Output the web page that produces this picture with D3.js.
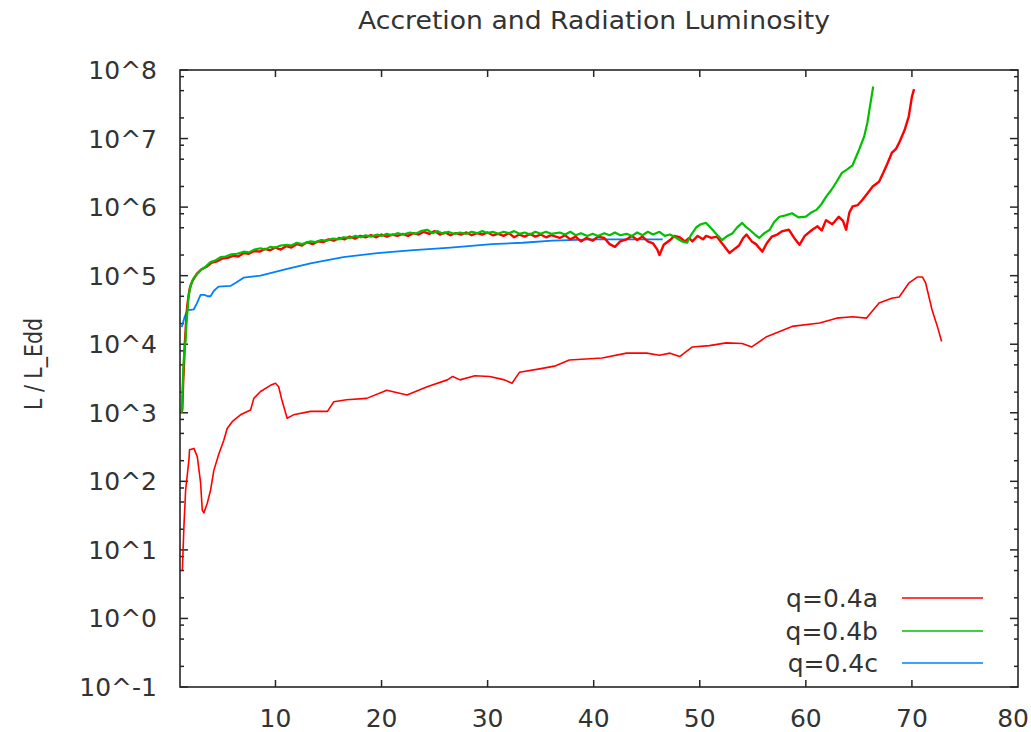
<!DOCTYPE html>
<html>
<head>
<meta charset="utf-8">
<script src="https://cdn.jsdelivr.net/npm/d3@7"></script>
<style>
  html, body { margin: 0; padding: 0; background: #fff; }
  svg { display: block; }
  text { font-family: "DejaVu Sans", sans-serif; fill: #333; }
</style>
</head>
<body>
<div id="chart"></div>
<script>
// ---------------- data (L / L_Edd stored as log10 exponents) ----------------
const chartTitle = "Accretion and Radiation Luminosity";
const yLabel = "L / L_Edd";
const seriesNames = ["q=0.4a", "q=0.4b", "q=0.4c"];
const seriesColors = ["#ff0000", "#00c000", "#0080ff"];

const xTicks = [10, 20, 30, 40, 50, 60, 70, 80];
const yTickExps = [-1, 0, 1, 2, 3, 4, 5, 6, 7, 8];
const yMinorFactors = [2, 5, 8];

// q=0.4a upper (noisy) curve
const aUpperX = [1.15,1.22,1.30,1.37,1.45,1.53,1.60,1.70,1.80,1.90,2.00,2.2,2.4,2.6,2.8,3.0,3.5,4.0,4.5,5.0,5.5,6.0,6.5,7.0,7.5,8.0,8.5,9.0,9.5,10.0,10.5,11.0,11.5,12.0,12.5,13.0,13.5,14.0,14.5,15.0,15.5,16.0,16.5,17.0,17.5,18.0,18.5,19.0,19.5,20.0,20.5,21.0,21.5,22.0,22.5,23.0,23.5,24.0,24.5,25.0,25.5,26.0,26.5,27.0,27.5,28.0,28.5,29.0,29.5,30.0,30.5,31.0,31.5,32.0,32.5,33.0,33.5,34.0,34.5,35.0,35.5,36.0,36.8,37.3,37.8,38.3,38.8,39.3,39.9,40.4,41.0,41.5,42.0,42.5,43.1,43.6,44.1,44.6,45.1,45.6,46.0,46.2,46.6,47.2,47.6,48.1,48.6,49.0,49.3,49.8,50.3,50.6,51.1,51.6,52.2,52.8,53.2,53.7,54.1,54.4,54.9,55.3,55.9,56.3,56.8,57.3,57.8,58.4,58.9,59.4,59.9,60.6,61.1,61.5,61.9,62.5,63.1,63.5,63.8,64.1,64.4,64.9,65.3,65.8,66.3,66.9,67.3,67.7,68.1,68.5,68.8,69.3,69.7,70.0,70.2];
const aUpperLog = [3.00,3.05,3.45,3.67,4.00,4.20,4.40,4.58,4.70,4.80,4.86,4.93,4.98,5.03,5.06,5.09,5.13,5.19,5.21,5.25,5.26,5.29,5.28,5.33,5.32,5.36,5.35,5.39,5.37,5.41,5.38,5.43,5.41,5.46,5.44,5.49,5.46,5.50,5.49,5.53,5.51,5.55,5.53,5.57,5.54,5.58,5.56,5.59,5.56,5.60,5.57,5.60,5.58,5.61,5.58,5.62,5.60,5.64,5.61,5.65,5.60,5.63,5.59,5.62,5.60,5.63,5.59,5.62,5.60,5.63,5.59,5.61,5.58,5.62,5.56,5.60,5.57,5.61,5.57,5.60,5.56,5.59,5.55,5.59,5.53,5.57,5.50,5.55,5.51,5.57,5.55,5.46,5.42,5.50,5.53,5.58,5.52,5.57,5.50,5.47,5.38,5.30,5.45,5.52,5.58,5.56,5.50,5.55,5.50,5.58,5.53,5.58,5.55,5.57,5.45,5.33,5.38,5.44,5.55,5.60,5.50,5.46,5.35,5.47,5.57,5.60,5.65,5.67,5.55,5.45,5.58,5.67,5.72,5.66,5.81,5.75,5.86,5.80,5.67,5.92,6.01,6.03,6.10,6.20,6.30,6.37,6.50,6.64,6.79,6.85,6.94,7.12,7.32,7.61,7.72];

// q=0.4a lower curve
const aLowerX = [1.22,1.37,1.53,1.84,1.90,2.31,2.63,2.94,3.10,3.25,3.57,3.88,4.19,4.66,5.13,5.45,5.92,6.70,7.65,7.96,8.59,9.53,10.0,10.3,10.6,11.1,11.7,13.3,14.9,15.5,16.7,18.6,20.5,22.4,24.3,26.2,26.7,27.4,28.8,30.2,31.6,32.3,33.0,34.9,36.3,37.7,40.8,43.1,45.0,46.2,47.2,48.1,49.3,50.9,52.5,54.0,54.9,56.3,58.7,61.3,62.9,64.4,65.7,66.9,68.1,68.8,69.7,70.5,71.0,71.3,71.9,72.4,72.8];
const aLowerLog = [0.70,1.34,1.87,2.31,2.46,2.48,2.36,1.98,1.58,1.54,1.68,1.87,2.16,2.40,2.60,2.77,2.87,2.97,3.04,3.21,3.31,3.40,3.43,3.38,3.19,2.92,2.97,3.02,3.02,3.16,3.19,3.21,3.33,3.26,3.38,3.48,3.53,3.48,3.54,3.53,3.48,3.43,3.59,3.64,3.68,3.77,3.80,3.87,3.87,3.84,3.87,3.82,3.96,3.98,4.02,4.01,3.96,4.11,4.26,4.31,4.38,4.40,4.38,4.60,4.67,4.69,4.89,4.98,4.98,4.89,4.50,4.26,4.04];

// q=0.4b
const bX = [1.15,1.22,1.30,1.37,1.45,1.53,1.60,1.69,1.80,1.90,2.00,2.15,2.31,2.6,2.94,3.4,3.88,4.3,4.82,5.3,5.8,6.4,7.0,7.5,8.0,8.6,9.0,9.5,10.0,10.5,11.1,11.5,12.0,12.5,13.3,13.8,14.3,14.8,15.4,16.0,16.4,17.0,17.5,18.0,18.5,19.0,19.6,20.0,20.5,21.0,21.5,22.0,22.7,23.2,23.7,24.3,24.8,25.3,25.8,26.3,26.8,27.4,28.0,28.5,29.0,29.5,30.0,30.5,31.0,31.5,32.0,32.5,33.0,33.5,34.0,34.5,35.0,35.5,36.0,36.8,37.3,37.8,38.3,38.8,39.4,39.9,40.4,41.0,41.5,42.0,42.5,43.1,43.6,44.1,44.6,45.1,45.6,46.2,46.7,47.2,47.8,48.3,48.8,49.2,49.7,50.1,50.6,51.2,51.6,52.1,52.6,53.1,53.5,54.0,54.3,54.7,55.2,55.6,56.1,56.6,57.0,57.5,58.1,58.7,59.3,60.0,60.5,61.0,61.5,61.9,62.4,62.9,63.4,63.9,64.4,65.0,65.5,65.8,66.1,66.35];
const bLog = [3.00,3.19,3.60,3.80,3.95,4.06,4.30,4.45,4.68,4.78,4.84,4.92,4.97,5.02,5.08,5.13,5.20,5.22,5.27,5.28,5.31,5.32,5.35,5.34,5.38,5.40,5.38,5.42,5.41,5.44,5.45,5.44,5.48,5.46,5.50,5.49,5.52,5.51,5.54,5.53,5.56,5.55,5.58,5.56,5.59,5.57,5.60,5.58,5.61,5.59,5.62,5.60,5.63,5.61,5.65,5.67,5.62,5.65,5.61,5.64,5.61,5.63,5.61,5.64,5.62,5.65,5.62,5.64,5.61,5.64,5.62,5.65,5.61,5.63,5.60,5.64,5.61,5.64,5.61,5.63,5.60,5.64,5.59,5.62,5.58,5.61,5.58,5.62,5.59,5.63,5.59,5.61,5.58,5.63,5.59,5.64,5.60,5.64,5.58,5.60,5.55,5.50,5.48,5.60,5.71,5.75,5.77,5.67,5.60,5.52,5.58,5.62,5.70,5.77,5.72,5.67,5.60,5.55,5.62,5.67,5.78,5.86,5.88,5.91,5.85,5.86,5.92,5.96,6.05,6.15,6.25,6.37,6.50,6.55,6.61,6.83,7.03,7.23,7.52,7.76];

// q=0.4c
const cX = [1.15,1.22,1.40,1.69,2.00,2.31,2.60,2.94,3.30,3.60,3.88,4.20,4.63,5.76,6.30,6.99,8.59,11.1,13.3,16.4,19.6,22.7,26.5,30.4,33.3,36.1,39.9,46.5];
const cLog = [4.25,4.28,4.38,4.50,4.50,4.51,4.60,4.72,4.72,4.70,4.70,4.78,4.84,4.85,4.90,4.97,5.00,5.10,5.18,5.27,5.33,5.37,5.41,5.46,5.48,5.51,5.53,5.53];

// ---------------- layout ----------------
const W = 1031, H = 732;
const plot = { left: 180, right: 1018, top: 70, bottom: 687 };

const svg = d3.select("#chart").append("svg")
  .attr("width", W).attr("height", H);

const x = d3.scaleLinear().domain([1, 80]).range([plot.left, plot.right]);
const y = d3.scaleLog().domain([1e-1, 1e8]).range([plot.bottom, plot.top]);

const frameColor = "#262626";

svg.append("clipPath").attr("id", "clip").append("rect")
  .attr("x", plot.left).attr("y", plot.top)
  .attr("width", plot.right - plot.left).attr("height", plot.bottom - plot.top);

// ---- ticks: x (bottom & top, inward) ----
const xMajor = xTicks.filter(v => v < 80);
const tickG = svg.append("g").attr("stroke", frameColor).attr("stroke-width", 1.5);
xMajor.forEach(v => {
  tickG.append("line").attr("x1", x(v)).attr("x2", x(v)).attr("y1", plot.bottom).attr("y2", plot.bottom - 7);
  tickG.append("line").attr("x1", x(v)).attr("x2", x(v)).attr("y1", plot.top).attr("y2", plot.top + 7);
});

// ---- ticks: y (left & right, inward) ----
yTickExps.forEach(e => {
  const v = Math.pow(10, e);
  tickG.append("line").attr("x1", plot.left).attr("x2", plot.left + 8).attr("y1", y(v)).attr("y2", y(v));
  tickG.append("line").attr("x1", plot.right).attr("x2", plot.right - 8).attr("y1", y(v)).attr("y2", y(v));
  if (e < 8) {
    yMinorFactors.forEach(f => {
      const mv = f * v;
      tickG.append("line").attr("x1", plot.left).attr("x2", plot.left + 4).attr("y1", y(mv)).attr("y2", y(mv));
      tickG.append("line").attr("x1", plot.right).attr("x2", plot.right - 4).attr("y1", y(mv)).attr("y2", y(mv));
    });
  }
});

// ---- tick labels ----
const labelG = svg.append("g").style("font-size", "25px");
xTicks.forEach(v => {
  const t = labelG.append("text").attr("y", 727).text(v);
  if (v === 80) {
    t.attr("x", 1029).attr("text-anchor", "end");
  } else {
    t.attr("x", x(v)).attr("text-anchor", "middle");
  }
});
yTickExps.forEach(e => {
  labelG.append("text").attr("x", 157).attr("y", y(Math.pow(10, e)) + 9)
    .attr("text-anchor", "end").text("10^" + e);
});

// ---- title & y label ----
svg.append("text").attr("x", 594).attr("y", 29)
  .attr("text-anchor", "middle").style("font-size", "25px")
  .attr("textLength", 472).attr("lengthAdjust", "spacingAndGlyphs")
  .text(chartTitle);

svg.append("text")
  .attr("transform", "translate(42,364) rotate(-90)")
  .attr("text-anchor", "middle").style("font-size", "25px")
  .attr("textLength", 92).attr("lengthAdjust", "spacingAndGlyphs")
  .text(yLabel);

// ---- curves ----
const line = d3.line()
  .x(d => x(d[0]))
  .y(d => y(Math.pow(10, d[1])));

const curves = [
  { xs: aUpperX, ys: aUpperLog, color: seriesColors[0], w: 2.4 },
  { xs: aLowerX, ys: aLowerLog, color: seriesColors[0], w: 1.6 },
  { xs: cX, ys: cLog, color: seriesColors[2], w: 1.8 },
  { xs: bX, ys: bLog, color: seriesColors[1], w: 2.2 }
];
const curveG = svg.append("g").attr("clip-path", "url(#clip)");
[curves[2], curves[0], curves[1], curves[3]].forEach(c => {
  const pts = c.xs.map((xv, i) => [xv, c.ys[i]]);
  curveG.append("path").datum(pts)
    .attr("d", line)
    .attr("fill", "none")
    .attr("stroke", c.color)
    .attr("stroke-width", c.w)
    .attr("stroke-linejoin", "round");
});

// ---- frame ----
svg.append("rect")
  .attr("x", plot.left).attr("y", plot.top)
  .attr("width", plot.right - plot.left).attr("height", plot.bottom - plot.top)
  .attr("fill", "none").attr("stroke", frameColor).attr("stroke-width", 1.6);

// ---- legend ----
const legendY = [598, 631, 663];
const legG = svg.append("g").style("font-size", "25px");
seriesNames.forEach((name, i) => {
  legG.append("text").attr("x", 878).attr("y", legendY[i] + 9)
    .attr("text-anchor", "end").text(name);
  legG.append("line")
    .attr("x1", 902).attr("x2", 983)
    .attr("y1", legendY[i]).attr("y2", legendY[i])
    .attr("stroke", seriesColors[i]).attr("stroke-width", 1.6);
});
</script>
</body>
</html>
